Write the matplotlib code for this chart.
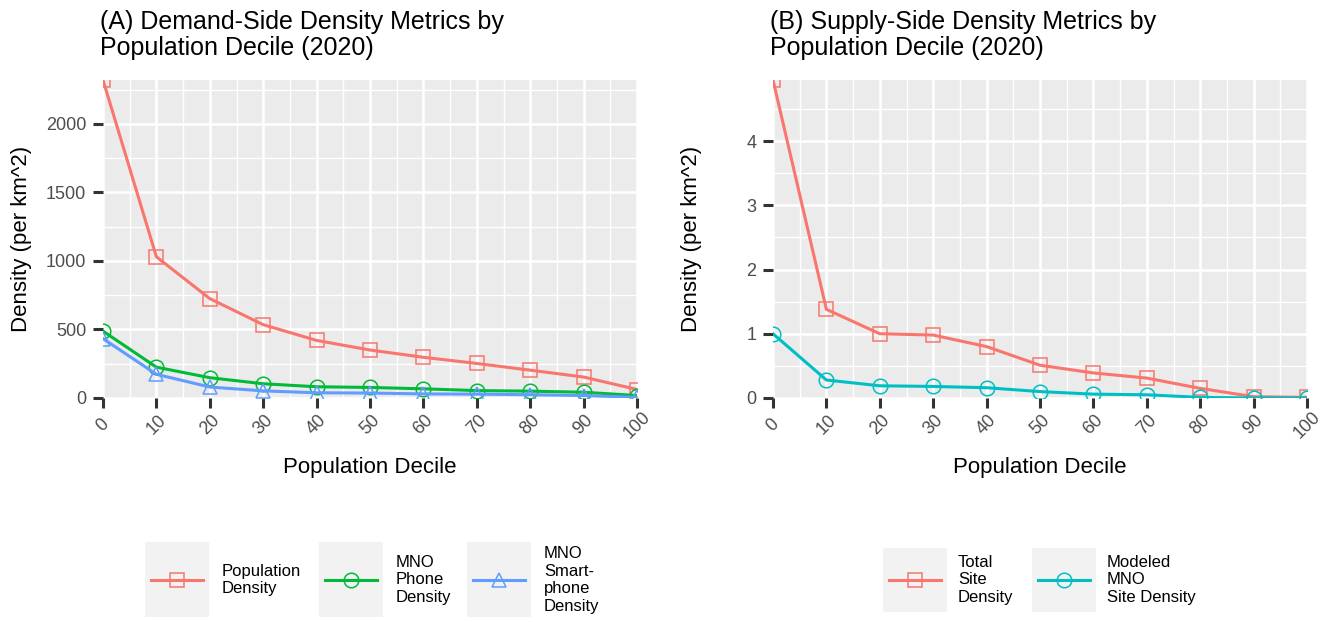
import matplotlib
matplotlib.use("Agg")
import matplotlib.pyplot as plt
from matplotlib.patches import Rectangle
from matplotlib.lines import Line2D
import numpy as np

plt.rcParams['font.family'] = ['Liberation Sans', 'DejaVu Sans']

W, H = 1331, 622

# ---------------- data ----------------
deciles = [0, 10, 20, 30, 40, 50, 60, 70, 80, 90, 100]
pop_density = [2320, 1030, 725, 535, 420, 350, 297, 252, 203, 153, 62]
mno_phone_density = [488, 225, 148, 104, 82, 77, 67, 54, 50, 42, 18]
mno_smartphone_density = [433, 173, 80, 52, 38, 36, 30, 28, 24, 18, 5]

total_site_density = [4.95, 1.38, 1.0, 0.98, 0.80, 0.51, 0.39, 0.31, 0.15, 0.02, 0.01]
modeled_mno_site_density = [1.0, 0.28, 0.19, 0.18, 0.16, 0.10, 0.06, 0.05, 0.01, 0.0, 0.0]

left_ticks_y = [0, 500, 1000, 1500, 2000]
right_ticks_y = [0, 1, 2, 3, 4]
x_ticks = deciles

RED = '#F8766D'
GREEN = '#00BA38'
BLUE = '#619CFF'
CYAN = '#00BFC4'
PANEL = '#EBEBEB'
KEYBG = '#F2F2F2'

left_series = [
    (pop_density, RED, 's', 'Population\nDensity'),
    (mno_phone_density, GREEN, 'o', 'MNO\nPhone\nDensity'),
    (mno_smartphone_density, BLUE, '^', 'MNO\nSmart-\nphone\nDensity'),
]
right_series = [
    (total_site_density, RED, 's', 'Total\nSite\nDensity'),
    (modeled_mno_site_density, CYAN, 'o', 'Modeled\nMNO\nSite Density'),
]

fig = plt.figure(figsize=(W / 100, H / 100), dpi=100)

def fx(px):
    return px / W

def fy(py):
    return 1 - py / H

LW = 2.2
MS = 10.5
MEW = 1.1


def style_axes(ax, yticks, ymax, yminor):
    ax.set_facecolor(PANEL)
    for s in ax.spines.values():
        s.set_visible(False)
    ax.set_xlim(0, 100)
    ax.set_ylim(0, ymax)
    ax.set_xticks(x_ticks)
    ax.set_xticks([v + 5 for v in x_ticks[:-1]], minor=True)
    ax.set_yticks(yticks)
    ax.set_yticks(yminor, minor=True)
    ax.grid(which='major', color='white', linewidth=1.8)
    ax.grid(which='minor', color='white', linewidth=1.0)
    ax.set_axisbelow(True)
    ax.tick_params(which='major', length=7, width=2.2, color='#333333',
                   labelcolor='#4D4D4D', labelsize=13)
    ax.tick_params(which='minor', length=0)
    ax.tick_params(axis='y', pad=5)
    ax.tick_params(axis='x', pad=12.5)
    for lab in ax.get_xticklabels():
        lab.set_rotation(45)
        lab.set_va('center')
        lab.set_ha('center')
    ax.set_xlabel('Population Decile', fontsize=16, color='black')
    ax.xaxis.set_label_coords(0.5, -(468 - 398) / 318)
    ax.xaxis.label.set_va('center')
    ax.set_ylabel('Density (per km^2)', fontsize=16, color='black')
    ax.yaxis.set_label_coords(-(103 - 22) / 534, 0.5)
    ax.yaxis.label.set_va('center')


def draw_panel(left_px, series, yticks, ymax, yminor, title):
    ax = fig.add_axes([fx(left_px), fy(398), 534 / W, 318 / H])
    for vals, col, mk, lab in series:
        ax.plot(deciles, vals, color=col, linewidth=LW, marker=mk,
                markersize=MS, markerfacecolor='none', markeredgecolor=col,
                markeredgewidth=MEW, zorder=3)
    style_axes(ax, yticks, ymax, yminor)
    fig.text(fx(left_px - 3), fy(10), title, ha='left', va='top',
             fontsize=18, linespacing=1.08)
    return ax


axL = draw_panel(103, left_series, left_ticks_y, max(pop_density),
                 [250, 750, 1250, 1750, 2250],
                 '(A) Demand-Side Density Metrics by\nPopulation Decile (2020)')
axR = draw_panel(773, right_series, right_ticks_y, max(total_site_density),
                 [0.5, 1.5, 2.5, 3.5, 4.5],
                 '(B) Supply-Side Density Metrics by\nPopulation Decile (2020)')


def draw_legend(series, boxes_x, box_top, box_bot, text_dx, ymid=580):
    for (vals, col, mk, lab), bx in zip(series, boxes_x):
        fig.add_artist(Rectangle((fx(bx), fy(box_bot)), 64 / W,
                                 (box_bot - box_top) / H, transform=fig.transFigure,
                                 facecolor=KEYBG, edgecolor='none'))
        fig.add_artist(Line2D([fx(bx + 6), fx(bx + 58)], [fy(ymid), fy(ymid)],
                              transform=fig.transFigure, color=col, linewidth=LW))
        fig.add_artist(Line2D([fx(bx + 32)], [fy(ymid)], transform=fig.transFigure,
                              marker=mk, markersize=MS, markerfacecolor='none',
                              markeredgecolor=col, markeredgewidth=MEW, linestyle='none'))
        fig.text(fx(bx + text_dx), fy(ymid), lab, ha='left', va='center',
                 fontsize=12, linespacing=1.2)


draw_legend(left_series, [145, 319, 467], 542, 617, 77)
draw_legend(right_series, [883, 1032], 548, 612, 75)

fig.savefig('out.png', dpi=100)
